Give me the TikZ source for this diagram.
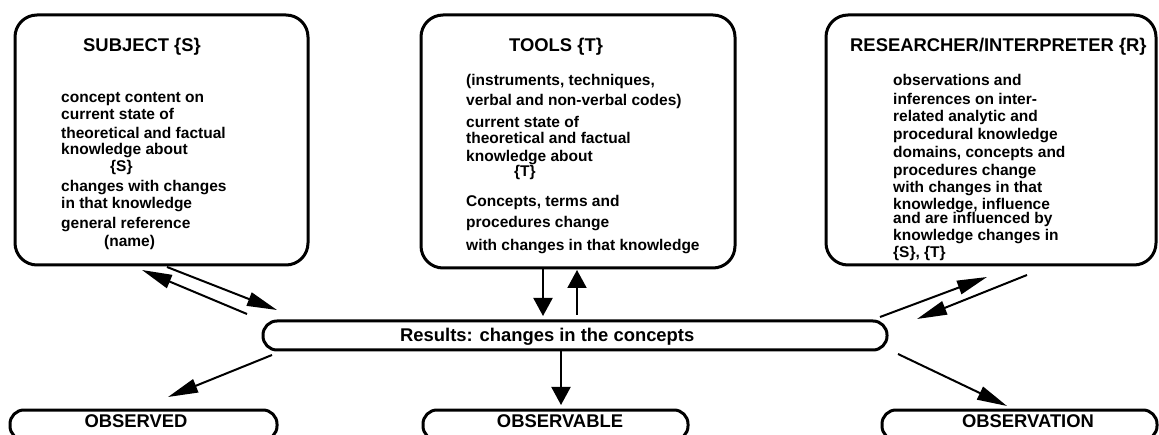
\documentclass[tikz,border=0pt]{standalone}
\usepackage{fontspec}
\setmainfont{Liberation Sans}
\usetikzlibrary{arrows.meta,calc}
\begin{document}
\begin{tikzpicture}[x=1pt,y=-1pt,
  box/.style={draw,line width=3pt,rounded corners=22pt,inner sep=0pt,outer sep=0pt},
  pill/.style={draw,line width=3pt,rounded corners=14pt,inner sep=0pt,outer sep=0pt},
  head/.style={anchor=base west,inner sep=0pt,font=\fontsize{18.4}{20}\selectfont\bfseries},
  body/.style={anchor=base west,inner sep=0pt,font=\fontsize{15.5}{17}\selectfont\bfseries},
  lab/.style={anchor=base,inner sep=0pt,font=\fontsize{18.4}{20}\selectfont\bfseries},
  darr/.style={line width=2pt,-{Triangle[length=30pt,width=14pt]}},
  varr/.style={line width=2pt,-{Triangle[length=18pt,width=19pt]}}]
\useasboundingbox (0,0) rectangle (1159,435);
\clip (0,0) rectangle (1159,435);
% boxes
\node[box,minimum width=293pt,minimum height=250pt] (subj) at (161.5,140) {};
\node[box,minimum width=314pt,minimum height=253pt] (tools) at (578,141.5) {};
\node[box,minimum width=330pt,minimum height=250pt] (res) at (991,140) {};
\node[pill,minimum width=624pt,minimum height=29pt] (results) at (575,335.5) {};
\node[pill,minimum width=267pt,minimum height=30pt] (obsd) at (143.5,425) {};
\node[pill,minimum width=265pt,minimum height=30pt] (obsb) at (555.5,425) {};
\node[pill,minimum width=275pt,minimum height=30pt] (obsn) at (1019.5,425) {};
% headings
\node[head] (hs) at (83,51.7) {SUBJECT \{S\}};
\node[head] (ht) at (509,51.7) {TOOLS \{T\}};
\node[head] (hr) at (850,51.7) {RESEARCHER/INTERPRETER \{R\}};
% body texts
\foreach \t/\x/\y [count=\i] in {
  {concept content on}/61/102.7,
  {current state of}/61/119.3,
  {theoretical and factual}/61/139,
  {knowledge about}/61/155,
  {\{S\}}/110/172,
  {changes with changes}/61/191.7,
  {in that knowledge}/61/209,
  {general reference}/61/229,
  {(name)}/104/246.7}
  \node[body] (sb\i) at (\x,\y) {\t};
\foreach \t/\x/\y [count=\i] in {
  {(instruments, techniques,}/466/86,
  {verbal and non-verbal codes)}/466/106,
  {current state of}/466/128,
  {theoretical and factual}/466/144,
  {knowledge about}/466/161.7,
  {\{T\}}/514/177,
  {Concepts, terms and}/466/207,
  {procedures change}/466/227.7,
  {with changes in that knowledge}/466/250.7}
  \node[body] (tb\i) at (\x,\y) {\t};
\foreach \t/\x/\y [count=\i] in {
  {observations and}/893/86,
  {inferences on inter-}/893/104.3,
  {related analytic and}/893/121.7,
  {procedural knowledge}/893/140,
  {domains, concepts and}/893/158,
  {procedures change}/893/176,
  {with changes in that}/893/193,
  {knowledge, influence}/893/209.5,
  {and are influenced by}/893/223.8,
  {knowledge changes in}/893/241,
  {\{S\}, \{T\}}/893/257.7}
  \node[body] (rb\i) at (\x,\y) {\t};
% labels
\node[head] (lres) at (400,342) {Results: changes in the concepts};
\node[lab] (lobsd) at (136,428) {OBSERVED};
\node[lab] (lobsb) at (560,428) {OBSERVABLE};
\node[lab] (lobsn) at (1028,428) {OBSERVATION};
% arrows
\draw[darr] ($(subj.south west)+(152,2)$) -- ($(results.north west)+(14,-11)$);
\draw[darr] ($(results.north west)+(-16,-7)$) -- ($(subj.south west)+(127,5)$);
\draw[varr] ($(tools.south west)+(122,0)$) -- ($(results.north west)+(280,-5)$);
\draw[varr] ($(results.north west)+(314,-6)$) -- ($(tools.south west)+(156,2)$);
\draw[darr] ($(results.north east)+(-7,-4)$) -- ($(res.south west)+(161,12)$);
\draw[darr] ($(res.south west)+(201,10)$) -- ($(results.north east)+(30,-2)$);
\draw[darr] ($(results.south west)+(9,5)$) -- ($(obsd.north east)+(-109,-13)$);
\draw[varr] ($(results.south west)+(298,0)$) -- ($(obsb.north west)+(138,-5)$);
\draw[darr] ($(results.south east)+(11,4)$) -- ($(obsn.north west)+(125,-4)$);
\end{tikzpicture}
\end{document}
